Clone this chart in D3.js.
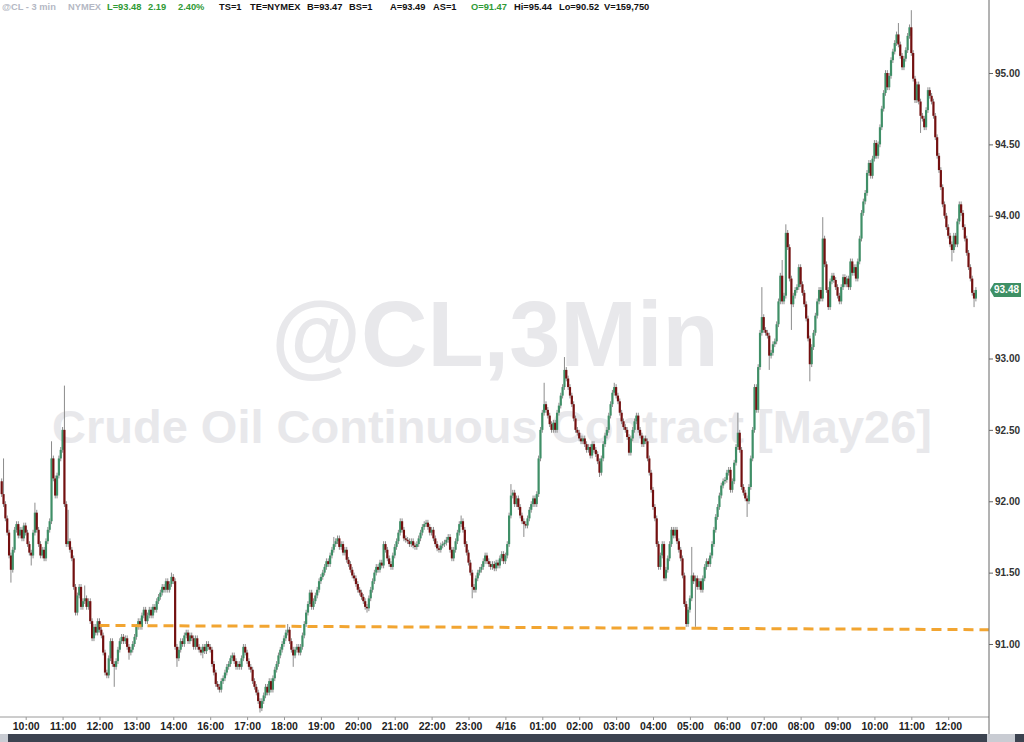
<!DOCTYPE html>
<html><head><meta charset="utf-8">
<script src="https://cdn.jsdelivr.net/npm/d3@7"></script>
<style>body{margin:0;background:#fff;overflow:hidden}svg{display:block;font-family:"Liberation Sans",Arial,sans-serif}</style>
</head><body><svg id="c" width="1024" height="742"></svg>
<script>
// ---------- data ----------
const timeLabels = ["10:00","11:00","12:00","13:00","14:00","16:00","17:00","18:00","19:00","20:00","21:00","22:00","23:00","4/16","01:00","02:00","03:00","04:00","05:00","06:00","07:00","08:00","09:00","10:00","11:00","12:00"];
const labelIndex = [13,33,53,73,93,113,133,153,173,193,213,233,253,273,293,313,333,353,373,393,413,433,453,473,493,513];
const priceTicks = [91.00,91.50,92.00,92.50,93.00,94.00,94.50,95.00];
const lastPrice = 93.48;
const firstOpen = 92.14;
// 3-minute closes (open = previous close)
const closes = [
92.05,91.98,91.88,91.78,91.62,91.52,91.66,91.80,91.84,91.76,
91.80,91.74,91.83,91.78,91.70,91.64,91.62,91.78,91.92,91.80,
91.70,91.62,91.66,91.60,91.72,91.80,91.86,92.30,92.16,92.04,
92.18,92.30,92.36,92.50,91.98,91.70,91.72,91.66,91.60,91.40,
91.22,91.34,91.40,91.26,91.30,91.32,91.26,91.30,91.16,91.04,
91.12,91.08,91.16,91.10,91.06,90.94,90.80,90.78,90.90,91.02,
90.86,90.84,90.88,90.96,91.02,91.05,91.02,91.04,90.98,90.94,
90.96,91.00,91.05,91.12,91.16,91.12,91.20,91.24,91.16,91.20,
91.24,91.20,91.26,91.24,91.30,91.33,91.36,91.40,91.38,91.44,
91.38,91.42,91.47,91.44,90.98,90.90,90.96,91.02,91.00,91.06,
91.08,91.02,91.06,91.04,90.98,91.04,90.98,90.96,90.94,90.98,
90.95,91.00,90.98,90.96,90.86,90.80,90.72,90.70,90.68,90.74,
90.76,90.80,90.84,90.86,90.90,90.92,90.88,90.84,90.86,90.84,
90.90,90.98,90.94,90.88,90.84,90.82,90.74,90.70,90.66,90.60,
90.55,90.60,90.64,90.70,90.66,90.74,90.68,90.76,90.82,90.86,
90.92,90.96,91.00,91.04,91.08,91.10,91.02,90.96,90.92,90.96,
90.98,90.94,90.98,91.06,91.14,91.22,91.28,91.36,91.26,91.30,
91.34,91.38,91.44,91.47,91.50,91.54,91.58,91.56,91.62,91.66,
91.70,91.72,91.74,91.68,91.70,91.64,91.66,91.59,91.56,91.52,
91.48,91.46,91.42,91.38,91.36,91.33,91.30,91.26,91.25,91.32,
91.38,91.44,91.50,91.54,91.52,91.57,91.55,91.70,91.66,91.60,
91.56,91.54,91.62,91.68,91.72,91.78,91.86,91.80,91.74,91.73,
91.72,91.70,91.72,91.69,91.68,91.70,91.74,91.78,91.82,91.84,
91.85,91.82,91.78,91.80,91.74,91.70,91.67,91.66,91.69,91.70,
91.71,91.73,91.75,91.66,91.60,91.66,91.72,91.78,91.84,91.86,
91.80,91.70,91.64,91.57,91.50,91.40,91.38,91.46,91.50,91.52,
91.54,91.58,91.62,91.58,91.56,91.54,91.56,91.53,91.57,91.55,
91.60,91.63,91.58,91.62,91.70,91.90,92.04,92.06,91.98,92.02,
91.96,91.90,91.86,91.84,91.83,91.88,91.94,91.98,92.02,91.98,
92.05,92.30,92.50,92.62,92.68,92.64,92.60,92.54,92.50,92.55,
92.50,92.62,92.67,92.74,92.80,92.92,92.86,92.80,92.74,92.68,
92.58,92.50,92.48,92.44,92.42,92.44,92.40,92.36,92.38,92.32,
92.40,92.36,92.33,92.28,92.20,92.30,92.40,92.46,92.50,92.60,
92.68,92.76,92.80,92.74,92.70,92.62,92.56,92.52,92.50,92.45,
92.34,92.44,92.50,92.56,92.60,92.50,92.46,92.40,92.44,92.42,
92.30,92.20,92.08,91.96,91.88,91.70,91.54,91.62,91.70,91.46,
91.52,91.60,91.70,91.80,91.76,91.80,91.72,91.66,91.60,91.48,
91.28,91.14,91.24,91.32,91.48,91.44,91.46,91.40,91.44,91.38,
91.46,91.54,91.58,91.56,91.62,91.70,91.80,91.89,91.96,92.04,
92.11,92.14,92.15,92.20,92.22,92.08,92.14,92.27,92.38,92.48,
92.36,92.10,92.06,92.02,92.00,92.10,92.30,92.50,92.80,92.64,
92.94,93.18,93.29,93.20,93.18,93.16,93.02,93.04,93.10,93.12,
93.24,93.40,93.58,93.40,93.44,93.88,93.78,93.56,93.38,93.44,
93.48,93.50,93.64,93.52,93.46,93.38,93.28,93.14,92.96,93.08,
93.18,93.30,93.40,93.48,93.42,93.84,93.66,93.48,93.36,93.54,
93.58,93.55,93.50,93.44,93.40,93.50,93.57,93.52,93.56,93.50,
93.68,93.60,93.64,93.56,93.68,93.84,94.02,94.10,94.16,94.30,
94.37,94.28,94.40,94.51,94.42,94.50,94.62,94.75,94.86,95.00,
94.90,94.98,95.09,95.15,95.21,95.27,95.20,95.12,95.04,95.10,
95.16,95.26,95.32,95.14,94.96,94.81,94.92,94.80,94.70,94.68,
94.62,94.74,94.88,94.84,94.80,94.70,94.55,94.42,94.32,94.20,
94.08,94.00,93.92,93.86,93.80,93.76,93.86,93.80,93.96,94.08,
94.02,93.92,93.84,93.74,93.64,93.56,93.46,93.42,93.48];
// notable wick extremes
const wickHighIdx = [1,18,27,34,36,45,92,155,180,249,276,294,305,332,374,399,412,423,425,445,486,493];
const wickHighVal = [92.30,91.99,92.42,92.81,91.94,91.41,91.50,91.14,91.75,91.90,92.12,92.83,93.01,92.83,91.68,92.62,93.50,93.69,93.94,93.99,95.35,95.44];
const wickLowIdx = [5,16,61,69,95,109,140,158,198,255,283,324,371,376,404,416,428,438,498,515,527];
const wickLowVal = [91.43,91.55,90.70,90.89,90.84,90.90,90.52,90.84,91.22,91.32,91.75,92.17,91.12,91.12,91.89,92.92,93.20,92.84,94.58,93.68,93.36];
const baseWick = 0.02;
const trendIdx = [53, 535];
const trendPrice = [91.13, 91.10];

// ---------- chart ----------
const svg = d3.select("#c");
const x = d3.scaleLinear().domain([0, 528]).range([1.7, 975.9]);
const y = d3.scaleLinear().domain([91, 95]).range([644, 73]);
const axisX = 989, axisY = 717;

// watermark
svg.append("text").attr("x",495).attr("y",366).attr("text-anchor","middle")
  .attr("font-size",92).attr("font-weight","bold").attr("fill","#e8e8eb").text("@CL,3Min");
svg.append("text").attr("x",492).attr("y",443).attr("text-anchor","middle")
  .attr("font-size",47).attr("font-weight","bold").attr("fill","#e8e8eb").text("Crude Oil Continuous Contract [May26]");

// candles
const hiMap = new Map(wickHighIdx.map((d,i)=>[d,wickHighVal[i]]));
const loMap = new Map(wickLowIdx.map((d,i)=>[d,wickLowVal[i]]));
const bars = closes.map((c,i)=>{
  const o = i===0 ? firstOpen : closes[i-1];
  const hi = hiMap.has(i) ? hiMap.get(i) : Math.max(o,c)+baseWick;
  const lo = loMap.has(i) ? loMap.get(i) : Math.min(o,c)-baseWick;
  return {i,o,c,hi,lo};
});
const g = svg.append("g");
g.selectAll("line.w").data(bars).join("line").attr("class","w")
  .attr("x1",d=>x(d.i)).attr("x2",d=>x(d.i))
  .attr("y1",d=>y(d.hi)).attr("y2",d=>y(d.lo))
  .attr("stroke","#8c8c8c").attr("stroke-width",1);
g.selectAll("rect.b").data(bars).join("rect").attr("class","b")
  .attr("x",d=>x(d.i)-1.1).attr("width",2.2)
  .attr("y",d=>y(Math.max(d.o,d.c)))
  .attr("height",d=>Math.max(1.2,Math.abs(y(d.o)-y(d.c))))
  .attr("fill",d=>d.c>=d.o?"#3f8f67":"#731010");

// trendline
svg.append("line")
  .attr("x1",x(trendIdx[0])).attr("y1",y(trendPrice[0]))
  .attr("x2",x(trendIdx[1])).attr("y2",y(trendPrice[1]))
  .attr("stroke","#f2a531").attr("stroke-width",3).attr("stroke-dasharray","10,6");

// axes lines
svg.append("line").attr("x1",0).attr("x2",axisX).attr("y1",axisY).attr("y2",axisY).attr("stroke","#9a9a9a");
svg.append("line").attr("x1",axisX).attr("x2",axisX).attr("y1",0).attr("y2",735).attr("stroke","#666");

// x axis
const xa = svg.append("g").attr("transform",`translate(0,${axisY})`)
  .call(d3.axisBottom(x).tickValues(labelIndex).tickFormat((d,i)=>timeLabels[i]).tickSize(3).tickPadding(3));
xa.select(".domain").remove();
xa.selectAll(".tick line").attr("stroke","#999");
xa.selectAll(".tick text").attr("font-size",10.5).attr("font-weight","bold").attr("fill","#222")
  .attr("font-family","'Liberation Sans',Arial,sans-serif");

// y axis
const ya = svg.append("g").attr("transform",`translate(${axisX},0)`)
  .call(d3.axisRight(y).tickValues(priceTicks).tickFormat(d3.format(".2f")).tickSize(4).tickPadding(2));
ya.select(".domain").remove();
ya.selectAll(".tick line").attr("stroke","#666");
ya.selectAll(".tick text").attr("font-size",10).attr("font-weight","bold").attr("fill","#333")
  .attr("font-family","'Liberation Sans',Arial,sans-serif");

// last price tag
const ly = y(lastPrice);
svg.append("path").attr("d",`M${axisX+1},${ly} L${axisX+5},${ly-7} L${axisX+32},${ly-7} L${axisX+32},${ly+7} L${axisX+5},${ly+7} Z`).attr("fill","#3e9065");
svg.append("text").attr("x",axisX+5).attr("y",ly+3.5).attr("font-size",10).attr("font-weight","bold")
  .attr("fill","#fff").text(d3.format(".2f")(lastPrice));

// bottom scrollbar
svg.append("rect").attr("x",0).attr("y",734).attr("width",1024).attr("height",8).attr("fill","#3c4350");
svg.append("rect").attr("x",0).attr("y",734).attr("width",8).attr("height",8).attr("fill","#c9ccd3");
svg.append("rect").attr("x",987).attr("y",734).attr("width",28).attr("height",8).attr("fill","#c9ccd3");

// header
const header = [
  ["@CL - 3 min",2,"#b4b8c4"],["NYMEX",68,"#b4b8c4"],
  ["L=93.48",107,"#2f9a35"],["2.19",148,"#2f9a35"],["2.40%",178,"#2f9a35"],
  ["TS=1",219,"#111"],["TE=NYMEX",250,"#111"],["B=93.47",307,"#111"],["BS=1",349,"#111"],
  ["A=93.49",390,"#111"],["AS=1",433,"#111"],["O=91.47",471,"#2f9a35"],
  ["Hi=95.44",514,"#111"],["Lo=90.52",559,"#111"],["V=159,750",604,"#111"]];
svg.append("g").selectAll("text").data(header).join("text")
  .attr("x",d=>d[1]).attr("y",10).attr("font-size",9.3).attr("font-weight","bold")
  .attr("fill",d=>d[2]).text(d=>d[0]);
</script></body></html>
